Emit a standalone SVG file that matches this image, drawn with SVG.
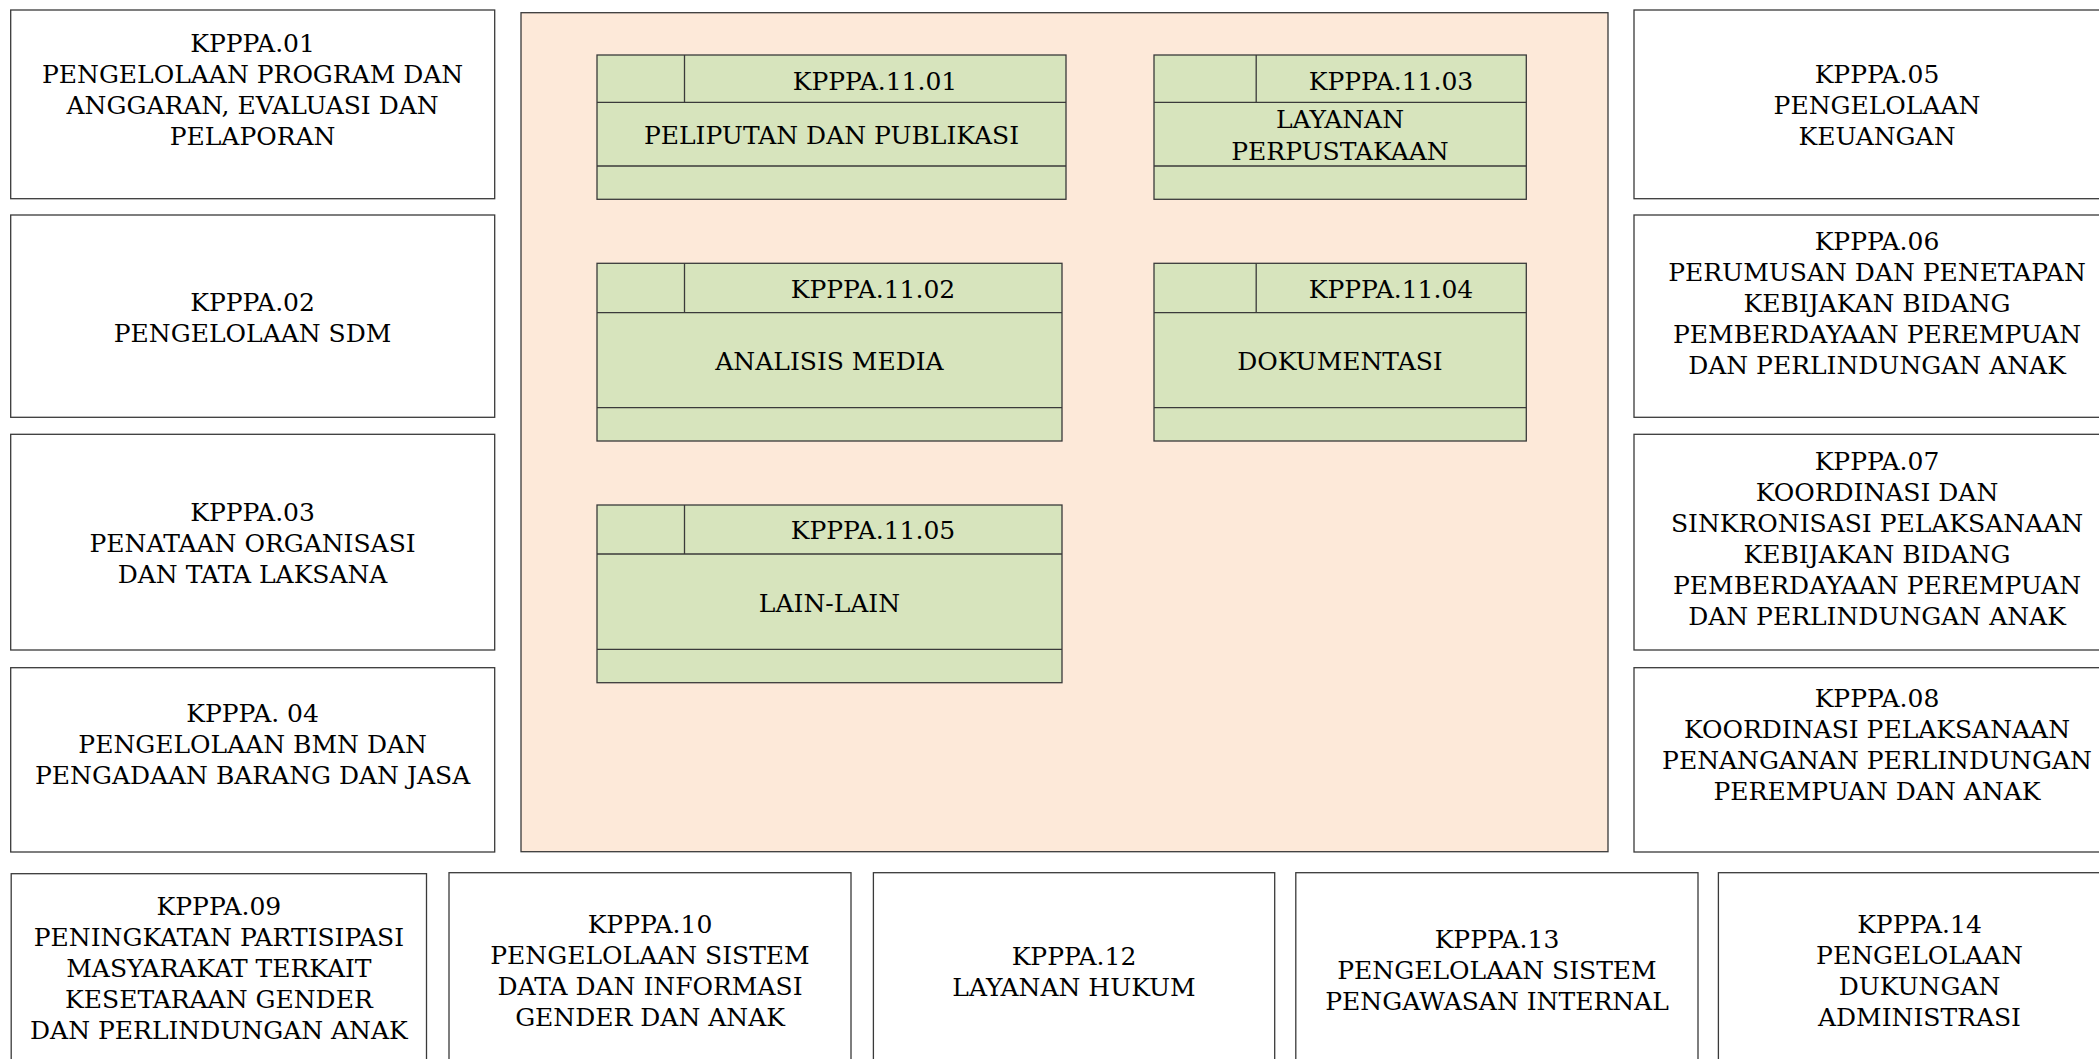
<svg xmlns="http://www.w3.org/2000/svg" width="2099" height="1059" viewBox="0 0 2099 1059">
<style>
.box{fill:#ffffff;stroke:#3a3a3a;stroke-width:1.3}
.cont{fill:#fde9d9;stroke:#3a3a3a;stroke-width:1.3}
.g{fill:#d7e4bd;stroke:#3a3a3a;stroke-width:1.3}
.ln{stroke:#3a3a3a;stroke-width:1.3;fill:none}
text{font-family:"DejaVu Serif","Liberation Serif",serif;font-size:25px;fill:#000;text-anchor:middle}
</style>
<rect width="2099" height="1059" fill="#ffffff"/>
<g id="kpppa01"><rect class="box" x="10.7" y="10" width="484" height="188.7"/>
<text x="252.6" y="51.7">KPPPA.01</text><text x="252.6" y="82.7">PENGELOLAAN PROGRAM DAN</text><text x="252.6" y="113.7">ANGGARAN, EVALUASI DAN</text><text x="252.6" y="144.7">PELAPORAN</text></g>
<g id="kpppa02"><rect class="box" x="10.7" y="215" width="484" height="202.3"/>
<text x="252.6" y="310.5">KPPPA.02</text><text x="252.6" y="341.5">PENGELOLAAN SDM</text></g>
<g id="kpppa03"><rect class="box" x="10.7" y="434.3" width="484" height="215.7"/>
<text x="252.6" y="520.7">KPPPA.03</text><text x="252.6" y="551.7">PENATAAN ORGANISASI</text><text x="252.6" y="582.7">DAN TATA LAKSANA</text></g>
<g id="kpppa04"><rect class="box" x="10.7" y="667.7" width="484" height="184.3"/>
<text x="252.6" y="721.7">KPPPA. 04</text><text x="252.6" y="752.7">PENGELOLAAN BMN DAN</text><text x="252.6" y="783.7">PENGADAAN BARANG DAN JASA</text></g>

<g id="kpppa11"><rect class="cont" x="521" y="12.7" width="1087" height="839"/></g>

<g id="kpppa1101"><rect class="g" x="597" y="55" width="469" height="144.3"/>
<line class="ln" x1="597" y1="102.3" x2="1066" y2="102.3"/><line class="ln" x1="597" y1="166" x2="1066" y2="166"/><line class="ln" x1="684.5" y1="55" x2="684.5" y2="102.3"/>
<text x="875" y="90">KPPPA.11.01</text><text x="831.5" y="144">PELIPUTAN DAN PUBLIKASI</text></g>
<g id="kpppa1103"><rect class="g" x="1154" y="55" width="372.3" height="144.3"/>
<line class="ln" x1="1154" y1="102.3" x2="1526.3" y2="102.3"/><line class="ln" x1="1154" y1="166" x2="1526.3" y2="166"/><line class="ln" x1="1256.2" y1="55" x2="1256.2" y2="102.3"/>
<text x="1391" y="90">KPPPA.11.03</text><text x="1340" y="128.3">LAYANAN</text><text x="1340" y="160">PERPUSTAKAAN</text></g>
<g id="kpppa1102"><rect class="g" x="597" y="263.3" width="465" height="177.7"/>
<line class="ln" x1="597" y1="312.7" x2="1062" y2="312.7"/><line class="ln" x1="597" y1="407.7" x2="1062" y2="407.7"/><line class="ln" x1="684.5" y1="263.3" x2="684.5" y2="312.7"/>
<text x="873" y="297.7">KPPPA.11.02</text><text x="829.5" y="369.5">ANALISIS MEDIA</text></g>
<g id="kpppa1104"><rect class="g" x="1154" y="263.3" width="372.3" height="177.7"/>
<line class="ln" x1="1154" y1="312.7" x2="1526.3" y2="312.7"/><line class="ln" x1="1154" y1="407.7" x2="1526.3" y2="407.7"/><line class="ln" x1="1256.2" y1="263.3" x2="1256.2" y2="312.7"/>
<text x="1391" y="297.7">KPPPA.11.04</text><text x="1340" y="369.5">DOKUMENTASI</text></g>
<g id="kpppa1105"><rect class="g" x="597" y="505" width="465" height="177.7"/>
<line class="ln" x1="597" y1="554" x2="1062" y2="554"/><line class="ln" x1="597" y1="649.3" x2="1062" y2="649.3"/><line class="ln" x1="684.5" y1="505" x2="684.5" y2="554"/>
<text x="873" y="539.3">KPPPA.11.05</text><text x="829.5" y="611.5">LAIN-LAIN</text></g>

<g id="kpppa05"><rect class="box" x="1634" y="10" width="486" height="188.7"/>
<text x="1877" y="83.3">KPPPA.05</text><text x="1877" y="114.3">PENGELOLAAN</text><text x="1877" y="145.3">KEUANGAN</text></g>
<g id="kpppa06"><rect class="box" x="1634" y="215" width="486" height="202.3"/>
<text x="1877" y="250">KPPPA.06</text><text x="1877" y="281">PERUMUSAN DAN PENETAPAN</text><text x="1877" y="312">KEBIJAKAN BIDANG</text><text x="1877" y="343">PEMBERDAYAAN PEREMPUAN</text><text x="1877" y="374">DAN PERLINDUNGAN ANAK</text></g>
<g id="kpppa07"><rect class="box" x="1634" y="434.3" width="486" height="215.7"/>
<text x="1877" y="470">KPPPA.07</text><text x="1877" y="501">KOORDINASI DAN</text><text x="1877" y="532">SINKRONISASI PELAKSANAAN</text><text x="1877" y="563">KEBIJAKAN BIDANG</text><text x="1877" y="594">PEMBERDAYAAN PEREMPUAN</text><text x="1877" y="625">DAN PERLINDUNGAN ANAK</text></g>
<g id="kpppa08"><rect class="box" x="1634" y="667.7" width="486" height="184.3"/>
<text x="1877" y="706.7">KPPPA.08</text><text x="1877" y="737.7">KOORDINASI PELAKSANAAN</text><text x="1877" y="768.7">PENANGANAN PERLINDUNGAN</text><text x="1877" y="799.7">PEREMPUAN DAN ANAK</text></g>

<g id="kpppa09"><rect class="box" x="11.2" y="873.7" width="415.3" height="200"/>
<text x="218.9" y="915">KPPPA.09</text><text x="218.9" y="946">PENINGKATAN PARTISIPASI</text><text x="218.9" y="977">MASYARAKAT TERKAIT</text><text x="218.9" y="1008">KESETARAAN GENDER</text><text x="218.9" y="1039">DAN PERLINDUNGAN ANAK</text></g>
<g id="kpppa10"><rect class="box" x="449" y="872.7" width="402" height="200"/>
<text x="650" y="933.3">KPPPA.10</text><text x="650" y="964.3">PENGELOLAAN SISTEM</text><text x="650" y="995.3">DATA DAN INFORMASI</text><text x="650" y="1026.3">GENDER DAN ANAK</text></g>
<g id="kpppa12"><rect class="box" x="873.4" y="872.7" width="401.3" height="200"/>
<text x="1074" y="965">KPPPA.12</text><text x="1074" y="996">LAYANAN HUKUM</text></g>
<g id="kpppa13"><rect class="box" x="1295.8" y="872.7" width="402.2" height="200"/>
<text x="1497" y="948.3">KPPPA.13</text><text x="1497" y="979.3">PENGELOLAAN SISTEM</text><text x="1497" y="1010.3">PENGAWASAN INTERNAL</text></g>
<g id="kpppa14"><rect class="box" x="1718.4" y="872.7" width="402.2" height="200"/>
<text x="1919.5" y="933.3">KPPPA.14</text><text x="1919.5" y="964.3">PENGELOLAAN</text><text x="1919.5" y="995.3">DUKUNGAN</text><text x="1919.5" y="1026.3">ADMINISTRASI</text></g>
<g id="connectors"/>
</svg>
